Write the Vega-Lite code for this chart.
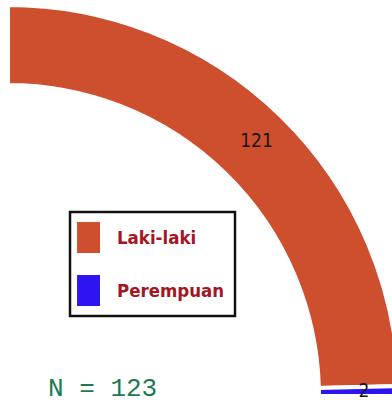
{
  "$schema": "https://vega.github.io/schema/vega-lite/v6.json",
  "width": 384,
  "height": 396,
  "autosize": {"type": "none"},
  "padding": {"left": 8, "top": 0, "right": 0, "bottom": 10},
  "background": "white",
  "view": {"stroke": null},
  "config": {"legend": {"strokeWidth": 2.5}},
  "title": {
    "text": "N = 123",
    "orient": "bottom",
    "anchor": "start",
    "offset": -29,
    "dx": 48,
    "font": "Liberation Mono",
    "fontSize": 26,
    "fontWeight": "normal",
    "color": "#1b7a4e"
  },
  "data": {
    "values": [
      {"gender": "Laki-laki", "count": 121},
      {"gender": "Perempuan", "count": 2}
    ]
  },
  "encoding": {
    "theta": {
      "field": "count",
      "type": "quantitative",
      "stack": true,
      "scale": {"range": [0, 1.5707963]}
    },
    "order": {"field": "gender", "sort": "ascending"},
    "x": {"value": 0},
    "y": {"value": "height"}
  },
  "layer": [
    {
      "mark": {
        "type": "arc",
        "innerRadius": 311,
        "outerRadius": 391,
        "stroke": "white",
        "strokeWidth": 4
      },
      "encoding": {
        "color": {
          "field": "gender",
          "type": "nominal",
          "scale": {
            "domain": ["Laki-laki", "Perempuan"],
            "range": ["#cd4f2e", "#2c14f3"]
          },
          "legend": {
            "title": null,
            "orient": "none",
            "legendX": 62,
            "legendY": 212,
            "padding": 10,
            "strokeColor": "#111111",
            "fillColor": "white",
            "cornerRadius": 0,
            "symbolType": "M-1.19,-1H0.29V1H-1.19Z",
            "symbolSize": 961,
            "symbolStrokeWidth": 0,
            "symbolOpacity": 1,
            "labelFont": "DejaVu Sans Condensed, sans-serif",
            "labelFontSize": 18.5,
            "labelFontWeight": "bold",
            "labelColor": "#a5161f",
            "labelOffset": 6,
            "rowPadding": 22
          }
        }
      }
    },
    {
      "mark": {
        "type": "text",
        "radius": 356,
        "font": "DejaVu Sans Condensed, sans-serif",
        "fontSize": 19,
        "color": "#151515"
      },
      "encoding": {
        "detail": {"field": "gender", "type": "nominal"},
        "text": {"field": "count", "type": "quantitative"}
      }
    }
  ]
}
